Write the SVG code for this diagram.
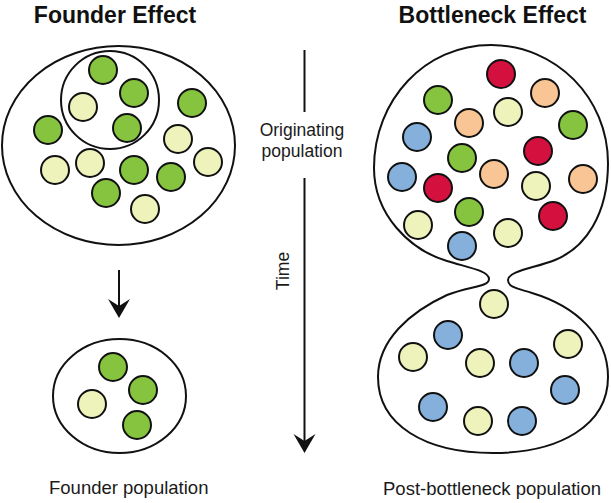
<svg xmlns="http://www.w3.org/2000/svg" width="611" height="503" viewBox="0 0 611 503">
<style>
.t{font-family:"Liberation Sans",Arial,sans-serif;fill:#1a1a1a}
.b{font-weight:bold;font-size:23px;fill:#111}
.s{font-size:18.5px}
.m{font-size:17.5px}
.o{fill:#fff;stroke:#111;stroke-width:2}
.c{stroke:#111;stroke-width:2}
.g{fill:#86c440}.l{fill:#eef2bb}.r{fill:#d4103f}.p{fill:#f9c594}.u{fill:#85b0dc}
.ln{stroke:#111;stroke-width:2;fill:none}
</style>
<defs>
<path id="ah" d="M0 0 L-11 -19 L0 -12 L11 -19 Z" fill="#111"/>
</defs>
<rect width="611" height="503" fill="#fff"/>
<text class="t b" x="115" y="23" text-anchor="middle">Founder Effect</text>
<text class="t b" x="492.5" y="23" text-anchor="middle">Bottleneck Effect</text>
<g id="originating-population">
<ellipse class="o" cx="118.5" cy="145.5" rx="116.5" ry="99.5"/>
<circle cx="110" cy="100" r="49" fill="none" stroke="#111" stroke-width="2"/>
<g class="c">
<circle class="g" cx="103" cy="70" r="14"/>
<circle class="g" cx="134" cy="93" r="14"/>
<circle class="l" cx="83" cy="107" r="14"/>
<circle class="g" cx="127" cy="128" r="14"/>
<circle class="g" cx="192" cy="103" r="14"/>
<circle class="g" cx="48" cy="130" r="14"/>
<circle class="l" cx="178" cy="139" r="14"/>
<circle class="l" cx="55" cy="170" r="14"/>
<circle class="l" cx="90" cy="163" r="14"/>
<circle class="g" cx="134" cy="170" r="14"/>
<circle class="g" cx="171" cy="177" r="14"/>
<circle class="l" cx="208" cy="162" r="14"/>
<circle class="g" cx="106" cy="193" r="14"/>
<circle class="l" cx="145" cy="209" r="14"/>
</g>
</g>
<g id="founder-population">
<ellipse class="o" cx="119.5" cy="396" rx="66.5" ry="57"/>
<g class="c">
<circle class="g" cx="113" cy="367" r="14"/>
<circle class="g" cx="143" cy="390" r="14"/>
<circle class="l" cx="92" cy="404" r="14"/>
<circle class="g" cx="137" cy="425" r="14"/>
</g>
<text class="t s" x="49" y="494">Founder population</text>
</g>
<g id="bottleneck-population">
<path class="o" d="M491 45 C556 45 608 98 608 163 C608 215 585 248 555 260 C535 268 508 271 508 280 C508 288 520 289 532 293 C575 306 608 335 608 377 C608 425 560 453 493 453 C425 453 378 425 378 377 C378 340 410 312 447 295 C470 286 489 287 489 279 C489 271 470 268 447 261 C410 250 374 215 374 168 C374 100 425 45 491 45 Z"/>
<g class="c">
<circle class="r" cx="501" cy="74" r="14"/>
<circle class="p" cx="545" cy="93" r="14"/>
<circle class="g" cx="438" cy="100" r="14"/>
<circle class="l" cx="508" cy="112" r="14"/>
<circle class="p" cx="469" cy="123" r="14"/>
<circle class="g" cx="573" cy="125" r="14"/>
<circle class="u" cx="417" cy="137" r="14"/>
<circle class="r" cx="538" cy="151" r="14"/>
<circle class="g" cx="462" cy="158" r="14"/>
<circle class="u" cx="402" cy="177" r="14"/>
<circle class="p" cx="494" cy="174" r="14"/>
<circle class="p" cx="583" cy="179" r="14"/>
<circle class="r" cx="438" cy="188" r="14"/>
<circle class="l" cx="536" cy="186" r="14"/>
<circle class="g" cx="469" cy="212" r="14"/>
<circle class="r" cx="553" cy="216" r="14"/>
<circle class="l" cx="418" cy="225" r="14"/>
<circle class="l" cx="508" cy="233" r="14"/>
<circle class="u" cx="462" cy="246" r="14"/>
<circle class="l" cx="494" cy="304" r="14"/>
<circle class="u" cx="448" cy="335" r="14"/>
<circle class="l" cx="568" cy="344" r="14"/>
<circle class="l" cx="413" cy="357" r="14"/>
<circle class="l" cx="480" cy="363" r="14"/>
<circle class="u" cx="524" cy="363" r="14"/>
<circle class="u" cx="565" cy="390" r="14"/>
<circle class="u" cx="433" cy="407" r="14"/>
<circle class="l" cx="478" cy="421" r="14"/>
<circle class="u" cx="522" cy="421" r="14"/>
</g>
<text class="t s" x="383" y="495">Post-bottleneck population</text>
</g>
<g id="time-axis">
<text class="t m" x="302" y="136" text-anchor="middle">Originating</text>
<text class="t m" x="302" y="157" text-anchor="middle">population</text>
<text class="t m" transform="translate(289 271) rotate(-90)" text-anchor="middle">Time</text>
</g>
<g id="connectors">
<line class="ln" x1="119" y1="270" x2="119" y2="306"/>
<use href="#ah" x="119" y="318"/>
<line class="ln" x1="304.5" y1="50" x2="304.5" y2="112"/>
<line class="ln" x1="304.5" y1="178" x2="304.5" y2="442"/>
<use href="#ah" x="304.5" y="453"/>
</g>
</svg>
